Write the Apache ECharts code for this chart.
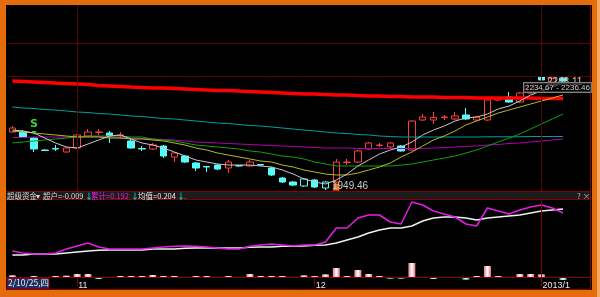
<!DOCTYPE html>
<html><head><meta charset="utf-8">
<script src="https://cdn.jsdelivr.net/npm/echarts@6/dist/echarts.min.js"></script>
<style>html,body{margin:0;padding:0;background:#000;}#c{width:600px;height:297px;}</style>
</head><body><div id="c"></div>
<script>
// ---- categories (trading days) ----
const dates = ['2012/10/24','2012/10/25','2012/10/26','2012/10/29','2012/10/30','2012/10/31',
 '2012/11/01','2012/11/02','2012/11/05','2012/11/06','2012/11/07','2012/11/08','2012/11/09',
 '2012/11/12','2012/11/13','2012/11/14','2012/11/15','2012/11/16','2012/11/19','2012/11/20',
 '2012/11/21','2012/11/22','2012/11/23','2012/11/26','2012/11/27','2012/11/28','2012/11/29',
 '2012/11/30','2012/12/03','2012/12/04','2012/12/05','2012/12/06','2012/12/07','2012/12/10',
 '2012/12/11','2012/12/12','2012/12/13','2012/12/14','2012/12/17','2012/12/18','2012/12/19',
 '2012/12/20','2012/12/21','2012/12/24','2012/12/25','2012/12/26','2012/12/27','2012/12/28',
 '2012/12/31','2013/01/04','2013/01/07','2013/01/08'];
const emptySlots = [' ', '  '];

// ---- candles ----
const open  = [2098.8,2098.8,2083.3,2052.4,2056.3,2047.3,2057.6,2088.5,2097.5,2096.2,
 2089.8,2075.6,2056.3,2055.0,2062.7,2034.4,2037.0,2019.0,2010.0,2013.8,
 2006.1,2012.5,2011.3,2015.1,2006.1,1980.4,1970.1,1959.8,1975.2,1954.6,
 1970.1,2020.3,2021.5,2055.0,2064.0,2060.2,2062.7,2052.4,2129.7,2129.7,
 2136.1,2132.3,2142.6,2129.7,2129.7,2181.2,2188.9,2176.0,2199.2,2240.4,2227.5,2237.8];
const close = [2109.1,2085.9,2055.0,2051.2,2055.0,2057.6,2091.1,2098.8,2098.8,2088.5,
 2091.1,2057.6,2055.0,2065.3,2037.0,2044.7,2021.5,2006.1,2008.7,2003.5,
 2021.5,2011.3,2021.5,2013.8,1988.1,1970.1,1962.3,1977.8,1957.2,1970.1,
 2021.5,2021.5,2049.9,2070.5,2065.3,2070.5,2049.9,2127.1,2137.4,2136.1,
 2137.4,2140.0,2132.3,2137.4,2181.2,2186.3,2176.0,2199.2,2224.9,2232.7,2237.8,2230.1];
const low   = [2096.2,2083.3,2047.3,2049.9,2049.9,2046.0,2056.3,2087.2,2091.1,2070.5,
 2080.8,2056.3,2049.9,2052.4,2031.8,2021.5,2019.0,1998.4,1995.8,2001.0,
 1993.2,2008.7,2008.7,2011.3,1985.5,1967.5,1959.8,1957.2,1954.6,1949.46,
 1968.8,2013.8,2019.0,2053.7,2060.2,2057.6,2048.6,2051.2,2127.1,2119.4,
 2129.7,2129.7,2129.7,2127.1,2127.1,2178.6,2173.5,2173.5,2198.0,2230.1,2224.9,2227.5];
const high  = [2114.2,2103.9,2085.9,2055.0,2065.3,2060.2,2093.6,2106.5,2106.5,2101.4,
 2098.8,2080.8,2062.7,2070.5,2065.3,2047.3,2039.6,2021.5,2010.0,2016.4,
 2026.7,2013.8,2026.7,2016.4,2008.7,1982.9,1972.6,1980.4,1977.8,1972.6,
 2029.3,2029.3,2052.4,2073.0,2070.5,2073.0,2065.3,2129.7,2145.1,2150.3,
 2142.6,2150.3,2160.6,2140.0,2183.7,2188.9,2201.8,2201.8,2227.5,2248.11,2240.4,2240.4];

// ---- moving averages ----
const maWhite = [2103.9,2101.4,2096.2,2083.3,2070.5,2060.2,2057.6,2067.9,2078.2,2088.5,
 2091.1,2080.8,2070.5,2065.3,2057.6,2047.3,2037.0,2026.7,2021.5,2016.4,
 2013.8,2013.8,2013.8,2011.3,2008.7,2001.0,1990.7,1977.8,1970.1,1964.9,
 1975.2,1990.7,2011.3,2026.7,2042.1,2052.4,2060.2,2073.0,2091.1,2103.9,
 2114.2,2127.1,2134.8,2137.4,2145.1,2158.0,2165.7,2178.6,2194.0,2204.3,2214.6,2224.9];
const maYellow = [2101.4,2098.8,2096.2,2093.6,2091.1,2088.5,2085.9,2085.9,2085.9,2083.3,
 2083.3,2080.8,2080.8,2078.2,2075.6,2070.5,2065.3,2057.6,2052.4,2044.7,
 2039.6,2034.4,2029.3,2024.1,2021.5,2013.8,2008.7,2001.0,1995.8,1990.7,
 1988.1,1988.1,1993.2,2001.0,2008.7,2019.0,2034.4,2047.3,2062.7,2078.2,
 2088.5,2101.4,2116.8,2127.1,2137.4,2147.7,2155.4,2163.2,2170.9,2178.6,2186.3,2194.0];
const maGreen = [2070.5,2073.0,2075.6,2078.2,2080.8,2083.3,2085.9,2088.5,2088.5,2088.5,
 2088.5,2085.9,2085.9,2080.8,2078.2,2075.6,2070.5,2065.3,2062.7,2060.2,
 2057.6,2055.0,2049.9,2047.3,2042.1,2037.0,2034.4,2029.3,2021.5,2016.4,
 2011.3,2011.3,2011.3,2011.3,2011.3,2011.3,2013.8,2016.4,2021.5,2026.7,
 2031.8,2037.0,2044.7,2052.4,2062.7,2073.0,2083.3,2093.6,2106.5,2119.4,2132.3,2145.1];
const maPurple = [2084.6,2084.6,2085.9,2085.9,2085.9,2085.9,2087.2,2087.2,2087.2,2085.9,
 2084.6,2083.3,2082.1,2080.8,2079.5,2078.2,2075.6,2073.0,2071.8,2070.5,
 2069.2,2067.9,2066.6,2065.3,2064.0,2062.7,2061.5,2060.2,2058.9,2057.6,
 2057.6,2057.6,2056.3,2056.3,2056.3,2056.3,2056.3,2056.3,2056.3,2057.6,
 2058.9,2060.2,2061.5,2062.7,2065.3,2066.6,2069.2,2070.5,2073.0,2075.6,2078.2,2080.8];
const maTeal = [2163.2,2160.6,2159.3,2156.7,2155.4,2152.9,2150.3,2149.0,2146.4,2145.1,
 2142.6,2140.0,2138.7,2136.1,2133.5,2132.3,2129.7,2127.1,2124.5,2122.0,
 2120.7,2118.1,2115.5,2114.2,2111.7,2109.1,2106.5,2103.9,2101.4,2098.8,
 2096.2,2094.9,2092.3,2091.1,2088.5,2087.2,2085.9,2085.9,2085.9,2085.9,
 2085.9,2085.9,2085.9,2085.9,2086.5,2086.5,2086.5,2086.5,2087.2,2087.2,2087.2,2087.2];
const maRed = [2230.1,2228.8,2227.5,2226.2,2224.9,2223.7,2222.4,2221.1,2218.5,2217.2,
 2215.9,2214.6,2213.4,2212.1,2212.1,2210.8,2209.5,2208.2,2206.9,2205.6,
 2205.6,2204.3,2203.1,2201.8,2200.5,2199.2,2197.9,2196.6,2196.6,2195.3,
 2194.0,2194.0,2192.8,2191.5,2191.5,2190.2,2190.2,2188.9,2188.9,2188.9,
 2187.6,2187.6,2187.6,2186.3,2186.3,2186.3,2186.3,2186.3,2186.3,2185.0,2185.0,2185.0];

// ---- lower indicator (超级资金) ----
const cumLine = [0.078,0.072,0.069,0.069,0.072,0.084,0.093,0.102,0.090,0.084,
 0.084,0.084,0.084,0.087,0.090,0.092,0.093,0.092,0.090,0.087,
 0.084,0.084,0.092,0.096,0.099,0.096,0.093,0.096,0.096,0.105,
 0.147,0.147,0.177,0.186,0.186,0.165,0.159,0.225,0.216,0.198,
 0.189,0.180,0.159,0.153,0.207,0.198,0.189,0.201,0.210,0.216,0.207,0.192];
const avgLine = [0.066,0.066,0.069,0.069,0.069,0.072,0.075,0.078,0.080,0.081,
 0.081,0.081,0.081,0.084,0.084,0.084,0.086,0.087,0.087,0.087,
 0.087,0.087,0.089,0.090,0.090,0.092,0.092,0.093,0.095,0.096,
 0.102,0.111,0.120,0.132,0.141,0.147,0.147,0.153,0.168,0.177,
 0.180,0.180,0.177,0.171,0.177,0.180,0.183,0.186,0.192,0.198,0.201,0.204];
const superBars = [0.005,-0.003,0.003,-0.003,0.003,0.004,0.009,0.009,-0.006,-0.003,
 0.003,0.003,0.003,0.006,0.003,0.003,-0.003,0.003,0.003,-0.003,
 0.003,-0.003,0.009,0.003,0.003,0.003,-0.003,0.005,0.003,0.008,
 0.027,0.003,0.021,0.009,0.003,-0.005,-0.005,0.042,-0.003,-0.006,
 -0.003,-0.003,-0.008,0.003,0.033,0.003,-0.003,0.009,0.009,0.008,-0.003,-0.009];

const hollowCyanIdx = [27, 29];
const lowMarkIdx = 29, buyIdx = 30, signalIdx = 2, highMarkIdx = 49;
const priceRangeText = '2234.67 - 2236.46';

// ---------------------------------------------------------------
const cats = dates.concat(emptySlots);
function tickLabel(i) {
  if (i <= 0 || i >= dates.length) return null;
  const [y, m] = dates[i].split('/'); const [py, pm] = dates[i - 1].split('/');
  if (y !== py) return y + '/' + (+m);
  if (m !== pm) return String(+m);
  return null;
}
const yearStarts = dates.map((d, i) => i).filter(i => i > 0 && dates[i].slice(0,4) !== dates[i-1].slice(0,4));
const monthStarts = dates.map((d, i) => i).filter(i => tickLabel(i) !== null);

const UP = '#ff3c3c', DN = '#54fcfc', GRIDC = '#5a0000', FRAME = '#8a0000';
const kData = open.map((o, i) => {
  const v = [o, close[i], low[i], high[i]];
  if (hollowCyanIdx.includes(i)) return { value: v, itemStyle: { color: '#000', borderColor: DN, color0: '#000', borderColor0: DN } };
  return v;
});

function maSeries(data, color, width) {
  return { type: 'line', xAxisIndex: 0, yAxisIndex: 0, data: data, showSymbol: false, silent: true,
    lineStyle: { color: color, width: width }, z: 3 };
}
function gradient(c) {
  return { type: 'linear', x: 0, y: 0, x2: 1, y2: 0,
    colorStops: [{ offset: 0, color: c }, { offset: 0.5, color: '#ffffff' }, { offset: 1, color: c }] };
}

const fontCJK = '"Noto Sans CJK SC", "Noto Sans", sans-serif';
const fmt = v => v.toFixed(3);
const last = a => a[a.length - 1];

const chart = echarts.init(document.getElementById('c'), null, { renderer: 'canvas' });
chart.setOption({
  animation: false,
  backgroundColor: '#000',
  grid: [
    { left: 7, right: 10, top: 5, height: 186 },
    { left: 7, right: 10, top: 200, height: 80 }
  ],
  xAxis: [
    { type: 'category', gridIndex: 0, data: cats, boundaryGap: true, show: false },
    { type: 'category', gridIndex: 1, data: cats, boundaryGap: true,
      axisLine: { show: false },
      axisTick: { show: true, alignWithLabel: true, length: 9, interval: (i) => tickLabel(i) !== null,
        lineStyle: { color: FRAME } },
      axisLabel: { interval: (i) => tickLabel(i) !== null, formatter: (v, i) => tickLabel(i) || '',
        color: '#e8e8e8', fontSize: 9, align: 'left', margin: 1, padding: [0, 0, 0, 1],
        fontFamily: 'Liberation Sans, sans-serif' },
      splitLine: { show: false } }
  ],
  yAxis: [
    { type: 'value', gridIndex: 0, min: 1946.9, max: 2425.8, show: false },
    { type: 'value', gridIndex: 1, min: -0.009, max: 0.231, show: false }
  ],
  series: [
    maSeries(maRed, '#ff0000', 3.5),
    maSeries(maTeal, '#00a0a0', 1),
    maSeries(maPurple, '#b000b0', 1),
    maSeries(maGreen, '#10a010', 1),
    maSeries(maYellow, '#b8b828', 1),
    maSeries(maWhite, '#c8c8c8', 1),
    { type: 'candlestick', xAxisIndex: 0, yAxisIndex: 0, data: kData, barWidth: 7, z: 2,
      itemStyle: { color: '#000', color0: DN, borderColor: UP, borderColor0: DN, borderWidth: 1 },
      markLine: { silent: true, symbol: 'none', label: { show: false },
        lineStyle: { color: GRIDC, type: 'solid', width: 1 },
        data: [{ yAxis: 2327.9 }, { yAxis: 2243.0 }].concat(
          [monthStarts[0]].concat(yearStarts).map(i => ({ xAxis: dates[i] }))) },
      markPoint: { silent: true, data: [
        { coord: [dates[lowMarkIdx], low[lowMarkIdx]], symbol: 'circle', symbolSize: 1,
          itemStyle: { color: 'rgba(0,0,0,0)' },
          label: { show: true, position: 'right', distance: 5, offset: [1, -4], formatter: low[lowMarkIdx].toFixed(2),
            color: '#c8c8c8', fontSize: 10, fontFamily: 'Liberation Sans, sans-serif' } },
        { coord: [dates[buyIdx], low[buyIdx]], symbol: 'rect', symbolSize: [6, 8], symbolOffset: [0, 5],
          itemStyle: { color: '#f07820' },
          label: { show: true, position: 'inside', offset: [0, 5], formatter: 'B', color: '#7a2000', fontSize: 8, fontWeight: 'bold' } },
        { coord: [dates[signalIdx], high[signalIdx]], symbol: 'triangle', symbolRotate: 180, symbolSize: [5, 4], symbolOffset: [0, -4],
          itemStyle: { color: '#40d040' },
          label: { show: true, position: 'top', distance: 1, formatter: 'S', color: '#40d040', fontSize: 11, fontWeight: 'bold',
            fontFamily: 'DejaVu Sans, sans-serif' } },
        { coord: [dates[highMarkIdx], high[highMarkIdx]], symbol: 'circle', symbolSize: 1,
          itemStyle: { color: 'rgba(0,0,0,0)' },
          label: { show: true, position: 'right', distance: 5, offset: [0, 8], formatter: high[highMarkIdx].toFixed(2),
            color: '#c8c8c8', fontSize: 10, fontFamily: 'Liberation Sans, sans-serif' } }
      ] } },
    { type: 'bar', xAxisIndex: 1, yAxisIndex: 1, data: superBars, barWidth: 7, silent: true,
      itemStyle: { color: (p) => p.value >= 0 ? gradient('#e07888') : gradient('#10b8c0') },
      markLine: { silent: true, symbol: 'none', label: { show: false },
        lineStyle: { color: FRAME, type: 'solid', width: 1 },
        data: yearStarts.map(i => ({ xAxis: dates[i] })) } },
    { type: 'line', xAxisIndex: 1, yAxisIndex: 1, data: avgLine, showSymbol: false, silent: true,
      lineStyle: { color: '#f0f0f0', width: 1.5 } },
    { type: 'line', xAxisIndex: 1, yAxisIndex: 1, data: cumLine, showSymbol: false, silent: true,
      lineStyle: { color: '#e020e0', width: 1.5 } }
  ],
  graphic: [
    // panel frames
    { type: 'rect', shape: { x: 6, y: 191, width: 585, height: 9 }, style: { fill: '#1c1c1c' }, z: 10 },
    { type: 'line', shape: { x1: 6, y1: 191.5, x2: 591, y2: 191.5 }, style: { stroke: FRAME, lineWidth: 1 }, z: 11 },
    { type: 'line', shape: { x1: 6, y1: 199.5, x2: 591, y2: 199.5 }, style: { stroke: FRAME, lineWidth: 1 }, z: 11 },
    { type: 'line', shape: { x1: 6, y1: 277.5, x2: 591, y2: 277.5 }, style: { stroke: FRAME, lineWidth: 1 }, z: 11 },
    { type: 'line', shape: { x1: 6, y1: 289.5, x2: 591, y2: 289.5 }, style: { stroke: FRAME, lineWidth: 1 }, z: 11 },
    { type: 'line', shape: { x1: 590.5, y1: 5, x2: 590.5, y2: 290 }, style: { stroke: FRAME, lineWidth: 1 }, z: 11 },
    // header texts
    { type: 'text', x: 7, y: 192, z: 12, style: { text: '超级资金', fill: '#d8d8d8', font: '7.5px ' + fontCJK } },
    { type: 'text', x: 36, y: 192, z: 12, style: { text: '▾', fill: '#d8d8d8', font: '7.5px ' + fontCJK } },
    { type: 'text', x: 43, y: 192, z: 12, style: { text: '超户=' + fmt(last(superBars)), fill: '#d8d8d8', font: '7.5px ' + fontCJK } },
    { type: 'text', x: 85, y: 192, z: 12, style: { text: '↓', fill: '#00c8c8', font: 'bold 8px ' + fontCJK } },
    { type: 'text', x: 91, y: 192, z: 12, style: { text: '累计=' + fmt(last(cumLine)), fill: '#e020e0', font: '7.5px ' + fontCJK } },
    { type: 'text', x: 131, y: 192, z: 12, style: { text: '↓', fill: '#00c8c8', font: 'bold 8px ' + fontCJK } },
    { type: 'text', x: 138, y: 192, z: 12, style: { text: '均值=' + fmt(last(avgLine)), fill: '#e8e8e8', font: '7.5px ' + fontCJK } },
    { type: 'text', x: 177, y: 192, z: 12, style: { text: '↓', fill: '#00c8c8', font: 'bold 8px ' + fontCJK } },
    { type: 'text', x: 184, y: 192, z: 12, style: { text: '.', fill: '#808080', font: '8px ' + fontCJK } },
    { type: 'text', x: 577, y: 192, z: 12, style: { text: '? ×', fill: '#b0b0b0', font: '8px ' + fontCJK } },
    // price range box
    { type: 'text', x: 524, y: 83, z: 12, style: { text: priceRangeText, fill: '#d0d0d0',
      font: '8px "Liberation Sans", sans-serif',
      backgroundColor: 'rgba(0,0,0,0.6)', borderColor: '#808080', borderWidth: 1, padding: [1, 1, 0, 1] } },
    // date box at axis
    { type: 'rect', shape: { x: 7, y: 278, width: 42, height: 11 }, style: { fill: '#1c2c6c', stroke: FRAME, lineWidth: 1 }, z: 12 },
    { type: 'text', x: 8, y: 279, z: 13, style: { text: '2/10/25,四', fill: '#f0f0c0', font: '8.5px ' + fontCJK } },
    // orange frame
    { type: 'rect', shape: { x: 0, y: 0, width: 600, height: 5 }, style: { fill: '#e46c0a' }, z: 20 },
    { type: 'rect', shape: { x: 0, y: 0, width: 6, height: 297 }, style: { fill: '#e46c0a' }, z: 20 },
    { type: 'rect', shape: { x: 592, y: 0, width: 8, height: 297 }, style: { fill: '#e46c0a' }, z: 20 },
    { type: 'rect', shape: { x: 597, y: 0, width: 3, height: 297 }, style: { fill: '#f2a868' }, z: 21 },
    { type: 'rect', shape: { x: 0, y: 290, width: 600, height: 7 }, style: { fill: '#e46c0a' }, z: 20 }
  ]
});
</script></body></html>
